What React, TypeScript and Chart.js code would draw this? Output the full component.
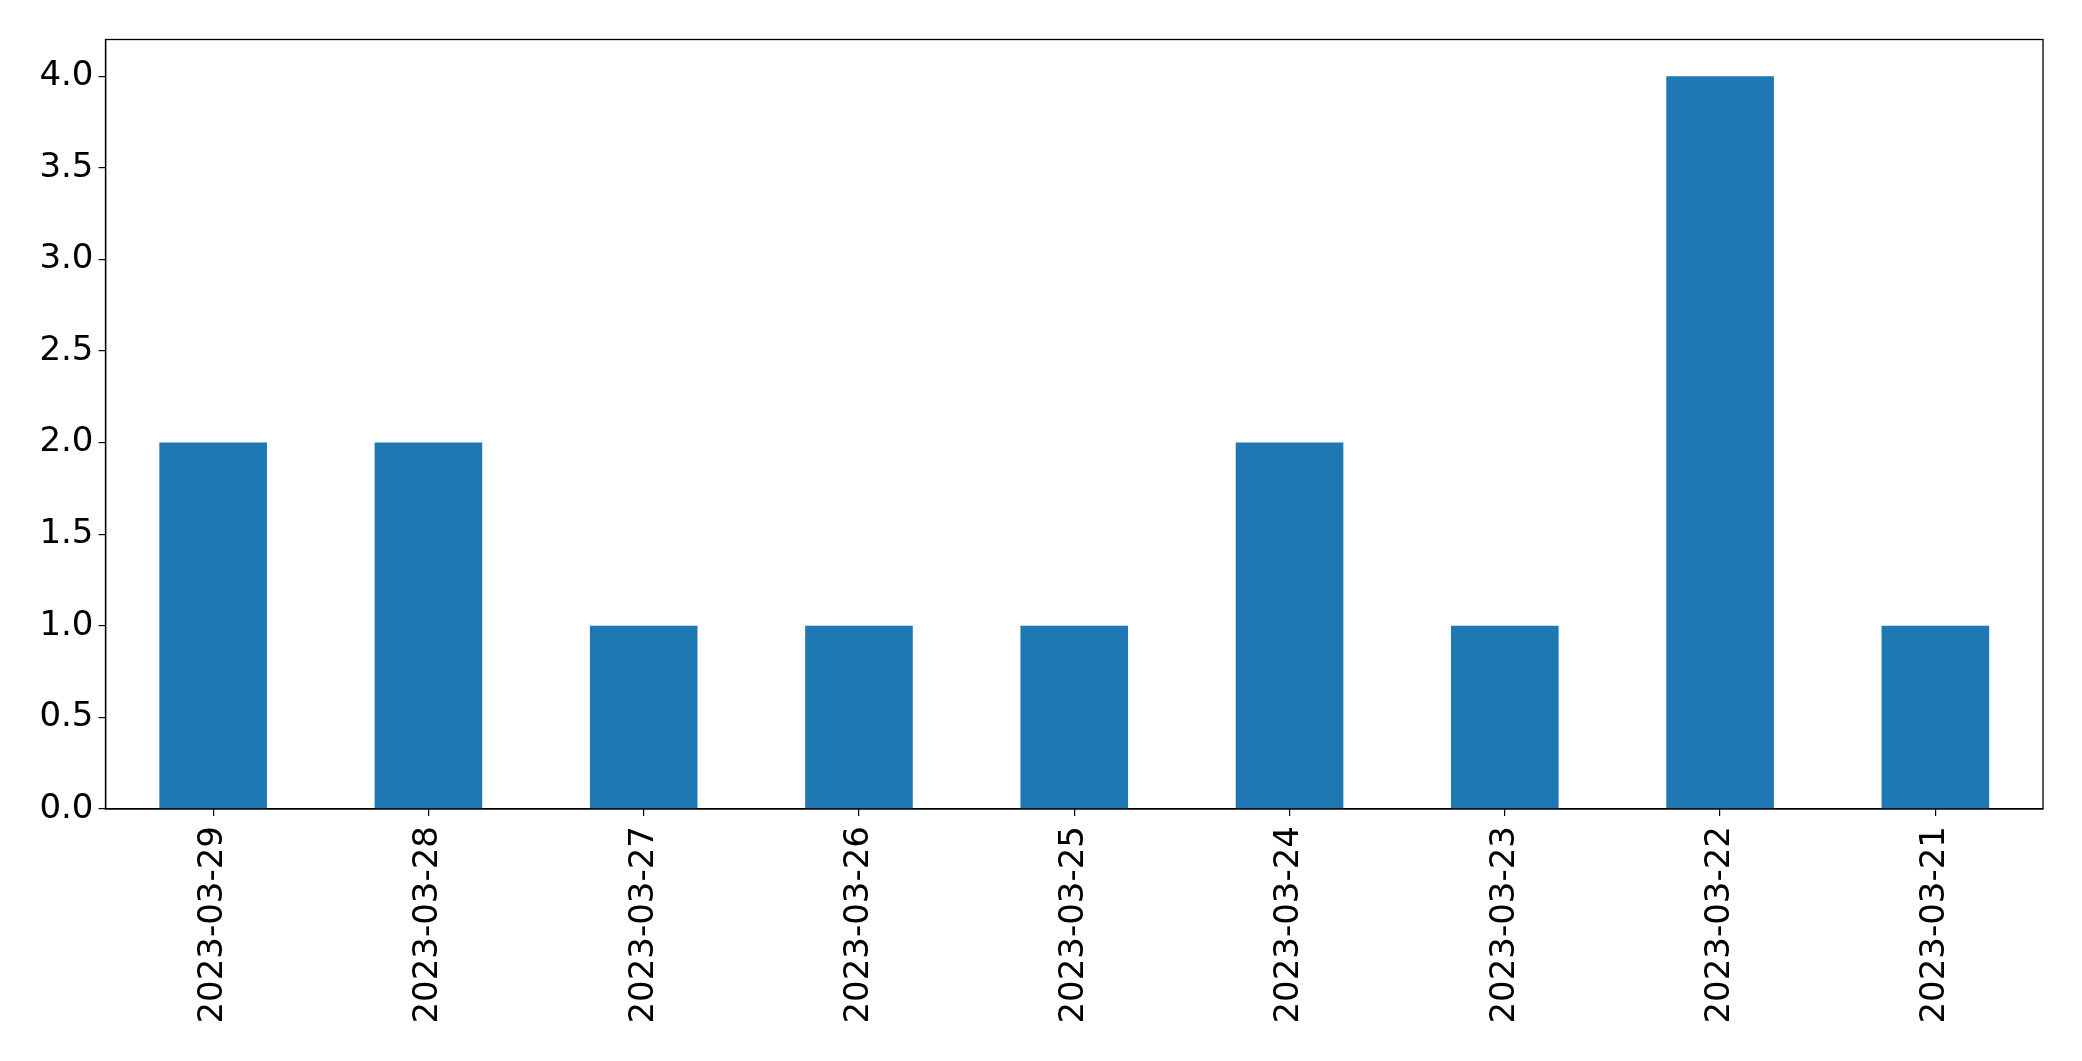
import React, { useEffect, useRef } from "react";
import { Chart, registerables } from "chart.js";

Chart.register(...registerables);

const categories = [
  "2023-03-29",
  "2023-03-28",
  "2023-03-27",
  "2023-03-26",
  "2023-03-25",
  "2023-03-24",
  "2023-03-23",
  "2023-03-22",
  "2023-03-21",
];
const counts = [2, 2, 1, 1, 1, 2, 1, 4, 1];
const yTickValues = [0, 0.5, 1.0, 1.5, 2.0, 2.5, 3.0, 3.5, 4.0];

const W = 2082;
const H = 1061;

const framePlugin = {
  id: "frame",
  afterDraw(chart: any) {
    const { ctx, chartArea } = chart;
    ctx.save();
    ctx.strokeStyle = "#000";
    ctx.lineWidth = 1.3;
    ctx.strokeRect(chartArea.left, chartArea.top, chartArea.right - chartArea.left, chartArea.bottom - chartArea.top);
    ctx.restore();
  },
};

export default function App() {
  const ref = useRef<HTMLCanvasElement>(null);
  useEffect(() => {
    document.body.style.margin = "0";
    const chart = new Chart(ref.current!, {
      type: "bar",
      data: {
        labels: categories,
        datasets: [
          {
            data: counts,
            backgroundColor: "#1f77b4",
            borderWidth: 0,
            barPercentage: 0.5,
            categoryPercentage: 1.0,
          },
        ],
      },
      options: {
        animation: false,
        responsive: false,
        maintainAspectRatio: false,
        layout: { padding: { top: 39.5, right: 39, left: 0, bottom: 0 } },
        plugins: { legend: { display: false }, tooltip: { enabled: false } },
        scales: {
          x: {
            offset: true,
            grid: { display: true, offset: false, drawOnChartArea: false, drawTicks: true, tickLength: 7, color: "#000", lineWidth: 1.2 },
            border: { display: true, color: "#000", width: 1.3 },
            ticks: {
              color: "#000",
              font: { family: "DejaVu Sans", size: 34 },
              minRotation: 90,
              maxRotation: 90,
              padding: 10,
              autoSkip: false,
            },
            afterFit: (axis: any) => {
              axis.height = 252;
            },
          },
          y: {
            min: 0,
            max: 4.2,
            grid: { display: true, drawOnChartArea: false, drawTicks: true, tickLength: 7, color: "#000", lineWidth: 1.2 },
            border: { display: true, color: "#000", width: 1.3 },
            ticks: {
              color: "#000",
              font: { family: "DejaVu Sans", size: 34 },
              padding: 5,
              callback: (v: any) => Number(v).toFixed(1),
            },
            afterBuildTicks: (axis: any) => {
              axis.ticks = yTickValues.map((v) => ({ value: v }));
            },
            afterFit: (axis: any) => {
              axis.width = 105.5;
            },
          },
        },
      },
      plugins: [framePlugin],
    });
    return () => chart.destroy();
  }, []);
  return (
    <div style={{ position: "absolute", left: 0, top: 0, width: W, height: H, background: "#fff" }}>
      <canvas ref={ref} width={W} height={H} style={{ width: W, height: H, display: "block" }} />
    </div>
  );
}
